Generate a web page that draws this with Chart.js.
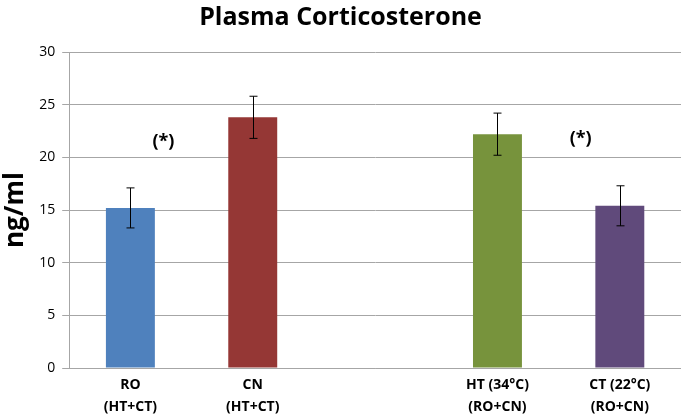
<!DOCTYPE html>
<html>
<head>
<meta charset="utf-8">
<script src="https://cdn.jsdelivr.net/npm/chart.js@4"></script>
<style>
  body { margin: 0; background: #fff; }
  #wrap { width: 681px; height: 419px; }
</style>
</head>
<body>
<div id="wrap"><canvas id="myChart" width="681" height="419"></canvas></div>
<script>
const labels = [['RO', '(HT+CT)'], ['CN', '(HT+CT)'], ['', ''], ['HT (34°C)', '(RO+CN)'], ['CT (22°C)', '(RO+CN)']];
const means = [15.2, 23.8, null, 22.2, 15.4];
const errors = [1.9, 2.0, null, 2.0, 1.9];
const barColors = ['#4F81BD', '#953735', '#ffffff', '#77933C', '#604A7B'];
const yTicks = [0, 5, 10, 15, 20, 25, 30];
// "(*)" marks: category position and value
const starPos = [0.27, 3.68];
const starVal = [21.5, 21.8];

const errorBars = {
  id: 'errorBars',
  afterDatasetsDraw(chart) {
    const ctx = chart.ctx;
    const x = chart.scales.x, y = chart.scales.y;
    ctx.save();
    ctx.strokeStyle = '#000';
    ctx.lineWidth = 1;
    means.forEach((m, i) => {
      if (m == null) return;
      const px = Math.round(x.getPixelForValue(i)) + 0.5;
      const top = y.getPixelForValue(m + errors[i]);
      const bot = y.getPixelForValue(m - errors[i]);
      ctx.beginPath();
      ctx.moveTo(px, top); ctx.lineTo(px, bot);
      ctx.moveTo(px - 4, top); ctx.lineTo(px + 4, top);
      ctx.moveTo(px - 4, bot); ctx.lineTo(px + 4, bot);
      ctx.stroke();
    });
    ctx.font = 'bold 18px "Open Sans"';
    ctx.fillStyle = '#000';
    ctx.textAlign = 'center';
    ctx.textBaseline = 'middle';
    starPos.forEach((p, i) => {
      ctx.fillText('(*)', x.getPixelForValue(p), y.getPixelForValue(starVal[i]));
    });
    ctx.restore();
  }
};

const data = {
  labels: labels,
  datasets: [{
    data: means,
    backgroundColor: barColors,
    categoryPercentage: 1,
    barPercentage: 0.4
  }]
};

const config = {
  type: 'bar',
  data: data,
  plugins: [errorBars],
  options: {
    responsive: false,
    animation: false,
    layout: { padding: { left: 0, right: 0, top: 0, bottom: -5 } },
    plugins: {
      legend: { display: false },
      tooltip: { enabled: false },
      title: {
        display: true,
        text: 'Plasma Corticosterone',
        color: '#000',
        font: { family: 'Open Sans', size: 25, weight: 'bold' },
        padding: { top: 3, bottom: 19 }
      }
    },
    scales: {
      x: {
        grid: { display: false, drawTicks: false },
        border: { display: true, color: '#A6A6A6' },
        ticks: {
          color: '#000',
          maxRotation: 0,
          autoSkip: false,
          padding: 6,
          font: { family: 'Open Sans', size: 14, weight: 'bold', lineHeight: 1.57 }
        }
      },
      y: {
        min: 0,
        max: 30,
        afterBuildTicks(axis) { axis.ticks = yTicks.map(v => ({ value: v })); },
        grid: { color: '#A6A6A6', tickLength: 7, tickColor: '#A6A6A6' },
        border: { display: true, color: '#A6A6A6' },
        ticks: {
          color: '#000',
          padding: 7,
          font: { family: 'Open Sans', size: 14 }
        },
        title: {
          display: true,
          text: 'ng/ml',
          color: '#000',
          padding: { top: 0, bottom: 1 },
          font: { family: 'Open Sans', size: 26, weight: 'bold' }
        }
      }
    }
  }
};

new Chart(document.getElementById('myChart'), config);
</script>
</body>
</html>
